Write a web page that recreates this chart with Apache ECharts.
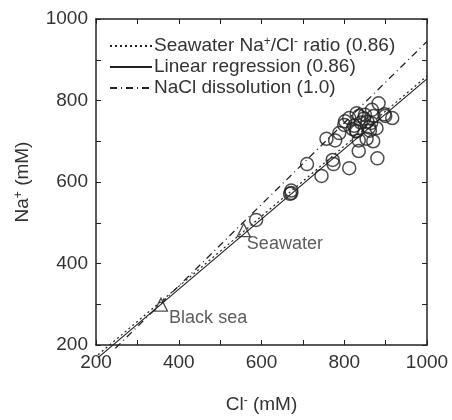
<!DOCTYPE html>
<html>
<head>
<meta charset="utf-8">
<script src="https://cdn.jsdelivr.net/npm/echarts@6/dist/echarts.min.js"></script>
<style>
  html, body { margin: 0; padding: 0; background: #fff; }
  #chart { width: 452px; height: 420px; }
</style>
</head>
<body>
<div id="chart"></div>
<script>
// line end points [Cl, Na]
const seawaterRatioLine = [[205, 176], [1000, 860]];
const regressionLine = [[205, 169], [1000, 853]];
const naclLine = [[247, 192], [1000, 945]];

// groundwater samples [Cl, Na] in mM
const samples = [
  [883, 793], [867, 777], [871, 762], [916, 757], [899, 762], [812, 757],
  [802, 749], [836, 762], [848, 756], [824, 738], [820, 730], [828, 726],
  [860, 734], [862, 726], [878, 732], [788, 720], [757, 706], [778, 702],
  [835, 702], [854, 706], [870, 700], [835, 676], [880, 658], [710, 644],
  [772, 654], [774, 644], [812, 634], [745, 615], [672, 573], [669, 571],
  [672, 579], [587, 507], [840, 746], [856, 748], [830, 769], [830, 724],
  [850, 765], [865, 745], [800, 740], [897, 766]
];

// reference waters
const refNames = ['Black sea', 'Seawater'];
const refValues = [[357, 299], [557, 482]];
const refLabelOffsets = [[-4, 13], [-9, 14]];

const legendNames = ['Seawater Na+/Cl- ratio (0.86)', 'Linear regression (0.86)', 'NaCl dissolution (1.0)'];
const ticks = [200, 1000, 100];

const ink = '#222';
const font = 'Liberation Sans, Arial, sans-serif';

const chart = echarts.init(document.getElementById('chart'));

function axisBase(extra) {
  return Object.assign({
    type: 'value',
    min: ticks[0],
    max: ticks[1],
    interval: ticks[2],
    splitLine: { show: false },
    axisLine: { show: true, lineStyle: { color: ink, width: 1.5 } },
    axisTick: { show: true, inside: true, length: 5, lineStyle: { color: ink, width: 1 } },
    axisLabel: { show: false }
  }, extra);
}

const labelStyle = {
  show: true,
  color: '#333',
  fontSize: 19,
  fontFamily: font,
  margin: 8,
  formatter: v => (v % 200 === 0 ? String(v) : '')
};

const supRich = {
  sup: { fontSize: 12, verticalAlign: 'top', lineHeight: 10, padding: [0, 0, 8, 0], color: '#333', fontFamily: font }
};

function legendText(name) {
  if (name === legendNames[0]) return 'Seawater Na{sup|+}/Cl{sup|-} ratio (0.86)';
  return name;
}

const option = {
  animation: false,
  grid: { left: 96, right: 25, top: 19, bottom: 70 },
  legend: {
    data: legendNames,
    orient: 'vertical',
    left: 104,
    top: 31,
    itemWidth: 42,
    itemHeight: 14,
    itemGap: 1,
    formatter: legendText,
    itemStyle: { opacity: 0 },
    textStyle: {
      color: '#333', fontSize: 19, fontFamily: font, lineHeight: 20, padding: [0, 0, 0, -3],
      rich: {
        sup: { fontSize: 12, color: '#333', fontFamily: font, verticalAlign: 'top', lineHeight: 12 }
      }
    }
  },
  xAxis: [
    axisBase({
      position: 'bottom',
      axisLabel: labelStyle,
      name: 'Cl{sup|-} (mM)',
      nameLocation: 'middle',
      nameGap: 50,
      nameTextStyle: { color: '#333', fontSize: 19, fontFamily: font, rich: supRich }
    }),
    axisBase({ position: 'top' })
  ],
  yAxis: [
    axisBase({
      position: 'left',
      axisLabel: labelStyle,
      name: 'Na{sup|+} (mM)',
      nameLocation: 'middle',
      nameGap: 64,
      nameTextStyle: { color: '#333', fontSize: 19, fontFamily: font, rich: supRich }
    }),
    axisBase({ position: 'right' })
  ],
  series: [
    {
      name: legendNames[0],
      type: 'line',
      data: seawaterRatioLine,
      symbol: 'none',
      clip: false,
      lineStyle: { color: ink, width: 1.2, type: [2, 3] }
    },
    {
      name: legendNames[1],
      type: 'line',
      data: regressionLine,
      symbol: 'none',
      clip: false,
      lineStyle: { color: ink, width: 1.2, type: 'solid' }
    },
    {
      name: legendNames[2],
      type: 'line',
      data: naclLine,
      symbol: 'none',
      clip: false,
      lineStyle: { color: ink, width: 1.3, type: [7, 4, 1, 4] }
    },
    {
      name: 'samples',
      type: 'scatter',
      data: samples,
      symbol: 'circle',
      symbolSize: 13,
      itemStyle: { color: 'rgba(255,255,255,0)', borderColor: ink, borderWidth: 1.5 },
      z: 3
    },
    {
      name: 'references',
      type: 'scatter',
      data: refValues.map((v, i) => ({
        name: refNames[i],
        value: v,
        label: { offset: refLabelOffsets[i] }
      })),
      symbol: 'triangle',
      symbolSize: 13,
      itemStyle: { color: 'rgba(255,255,255,0)', borderColor: ink, borderWidth: 1.3 },
      label: {
        show: true,
        position: 'right',
        formatter: '{b}',
        color: '#333',
        fontSize: 18,
        fontFamily: font
      },
      z: 4
    }
  ]
};

chart.setOption(option);
</script>
</body>
</html>
